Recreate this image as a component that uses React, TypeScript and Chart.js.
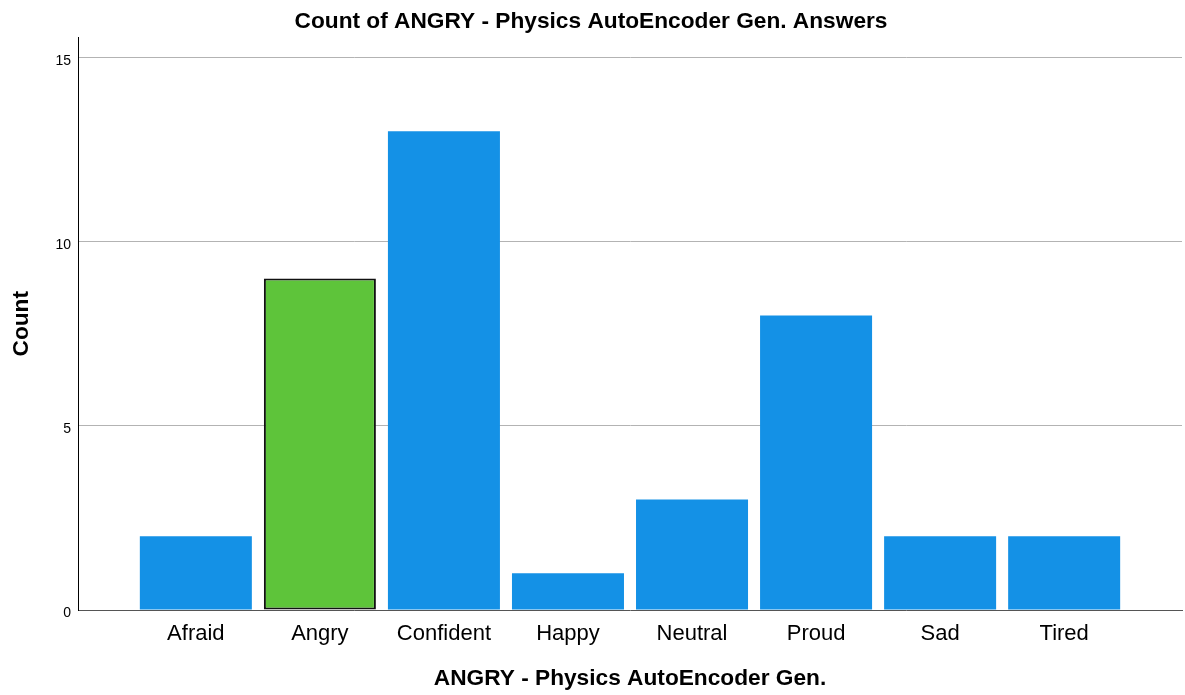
import React, { useEffect, useRef } from "react";
import { Chart, registerables } from "chart.js";

Chart.register(...registerables);

const categories = ["Afraid", "Angry", "Confident", "Happy", "Neutral", "Proud", "Sad", "Tired"];
const counts = [2, 9, 13, 1, 3, 8, 2, 2];
const highlighted = "Angry";
const yTicks = [0, 5, 10, 15];
const chartTitle = "Count of ANGRY - Physics AutoEncoder Gen. Answers";
const xTitle = "ANGRY - Physics AutoEncoder Gen.";
const yTitle = "Count";

const BLUE = "#1491E6";
const GREEN = "#5EC43A";
const FONT = "'Liberation Sans', Arial, sans-serif";

export default function App() {
  const ref = useRef<HTMLCanvasElement | null>(null);

  useEffect(() => {
    const canvas = ref.current;
    if (!canvas) return;
    const data = counts.map((v, i) => ({ x: i, y: v }));
    const chart = new Chart(canvas, {
      type: "bar",
      data: {
        datasets: [
          {
            data,
            backgroundColor: categories.map((c) => (c === highlighted ? GREEN : BLUE)),
            borderColor: "#111111",
            borderWidth: categories.map((c) => (c === highlighted ? 2 : 0)),
            borderSkipped: false,
            categoryPercentage: 1,
            barPercentage: 0.903,
          },
        ],
      },
      options: {
        animation: false,
        responsive: false,
        devicePixelRatio: 1,
        layout: { padding: { left: 0, right: 3, top: 0, bottom: 0 } },
        plugins: {
          legend: { display: false },
          tooltip: { enabled: false },
          title: {
            display: true,
            text: chartTitle,
            color: "#000",
            font: { family: FONT, size: 22.7, weight: "bold" },
            padding: { top: 8.2, bottom: 2.0 },
          },
        },
        scales: {
          x: {
            type: "linear",
            offset: false,
            min: -0.95,
            max: categories.length - 1 + 0.95,
            afterFit: (s: any) => {
              s.height = 85;
            },
            ticks: {
              stepSize: 1,
              includeBounds: false,
              autoSkip: false,
              maxRotation: 0,
              padding: 10.8,
              color: "#000",
              font: { family: FONT, size: 22 },
              callback: (v: any) => (Number.isInteger(v) && categories[v as number] !== undefined ? categories[v as number] : ""),
            },
            grid: { display: false, drawTicks: false, offset: false },
            border: { display: true, color: "#555555", width: 1 },
            title: {
              display: true,
              text: xTitle,
              color: "#000",
              font: { family: FONT, size: 22.7, weight: "bold" },
              padding: { top: 0, bottom: 2.2 },
            },
          },
          y: {
            min: 0,
            max: 15.55,
            afterFit: (s: any) => {
              s.width = 78;
            },
            afterBuildTicks: (s: any) => {
              s.ticks = yTicks.map((v) => ({ value: v }));
            },
            ticks: {
              stepSize: 5,
              includeBounds: false,
              padding: 7,
              labelOffset: 3,
              color: "#000",
              font: { family: FONT, size: 14 },
            },
            grid: {
              drawTicks: false,
              color: (ctx: any) => (ctx.tick && ctx.tick.value === 0 ? "rgba(0,0,0,0)" : "#b3b3b3"),
              lineWidth: 1,
            },
            border: { display: true, color: "#000", width: 1 },
            title: {
              display: true,
              text: yTitle,
              color: "#000",
              font: { family: FONT, size: 22.7, weight: "bold" },
              padding: { top: 7.7, bottom: 0 },
            },
          },
        },
      },
    });
    return () => chart.destroy();
  }, []);

  return (
    <div style={{ position: "absolute", left: 0, top: 0, width: 1185, height: 695, background: "#fff" }}>
      <canvas ref={ref} width={1185} height={695} style={{ display: "block" }} />
    </div>
  );
}
